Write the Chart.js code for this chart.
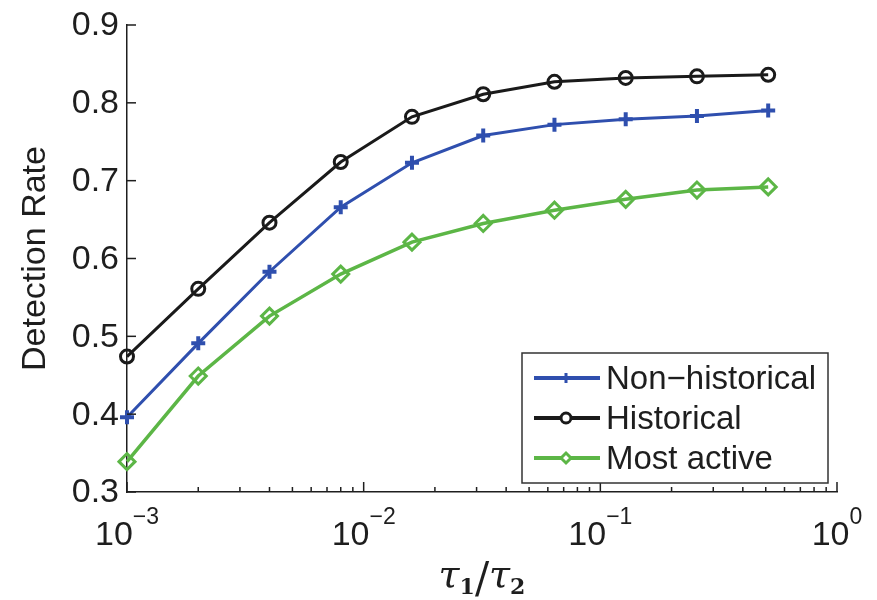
<!DOCTYPE html>
<html>
<head>
<meta charset="utf-8">
<script src="https://cdn.jsdelivr.net/npm/chart.js@4.4.1/dist/chart.umd.min.js"></script>
<style>
  html, body { margin: 0; padding: 0; background: #fff; }
  #wrap { width: 877px; height: 600px; }
</style>
</head>
<body>
<div id="wrap"><canvas id="chartRate"></canvas></div>
<script>
// tau1/tau2 ratios
const ratios = [0.001, 0.002, 0.004, 0.008, 0.016, 0.032, 0.064, 0.128, 0.256, 0.512];

const nonHistorical = [0.396, 0.491, 0.583, 0.666, 0.723, 0.758, 0.772, 0.779, 0.783, 0.790];
const historical    = [0.474, 0.561, 0.646, 0.724, 0.782, 0.811, 0.827, 0.832, 0.834, 0.836];
const mostActive    = [0.339, 0.449, 0.526, 0.580, 0.621, 0.645, 0.662, 0.676, 0.688, 0.692];

const yTicks = [0.3, 0.4, 0.5, 0.6, 0.7, 0.8, 0.9];
const xDecades = [-3, -2, -1, 0];

const INK = '#1e1e1e';
const BLUE = '#2f4fae';
const BLACK = '#1a1a1a';
const GREEN = '#5cb646';

const pts = (vals) => ratios.map((x, i) => ({ x: x, y: vals[i] }));

// ticks inward, labels, legend -- MATLAB look
const matlabAxes = {
    id: 'matlabAxes',
    afterDraw(chart) {
        const { ctx, chartArea: a, scales: { x, y } } = chart;
        ctx.save();
        ctx.strokeStyle = INK;
        ctx.lineWidth = 1.5;

        // y ticks + labels
        ctx.font = '34px "Liberation Sans", Arial, sans-serif';
        ctx.fillStyle = INK;
        ctx.textAlign = 'right';
        ctx.textBaseline = 'middle';
        yTicks.forEach(v => {
            const py = y.getPixelForValue(v);
            ctx.beginPath();
            ctx.moveTo(a.left, py);
            ctx.lineTo(a.left + 9, py);
            ctx.stroke();
            ctx.fillText(v.toFixed(1), a.left - 8, py + 1);
        });

        // x ticks (major + minor)
        xDecades.forEach(d => {
            for (let m = 1; m <= 9; m++) {
                const v = m * Math.pow(10, d);
                if (v > 1.0000001) break;
                const px = x.getPixelForValue(v);
                const len = m === 1 ? 10 : 5;
                ctx.beginPath();
                ctx.moveTo(px, a.bottom);
                ctx.lineTo(px, a.bottom - len);
                ctx.stroke();
            }
        });

        // x tick labels 10^d
        xDecades.forEach(d => {
            const px = x.getPixelForValue(Math.pow(10, d));
            const base = '10';
            const sup = d < 0 ? '\u2212' + (-d) : String(d);
            ctx.font = '34px "Liberation Sans", Arial, sans-serif';
            const wb = ctx.measureText(base).width;
            ctx.font = '23px "Liberation Sans", Arial, sans-serif';
            const ws = ctx.measureText(sup).width;
            const left = px - (wb + ws) / 2;
            ctx.textAlign = 'left';
            ctx.textBaseline = 'alphabetic';
            ctx.font = '34px "Liberation Sans", Arial, sans-serif';
            ctx.fillText(base, left, 545);
            ctx.font = '23px "Liberation Sans", Arial, sans-serif';
            ctx.fillText(sup, left + wb, 524);
        });

        // y title
        ctx.save();
        ctx.translate(36, (a.top + a.bottom) / 2);
        ctx.rotate(-Math.PI / 2);
        ctx.font = '34px "Liberation Sans", Arial, sans-serif';
        ctx.textAlign = 'center';
        ctx.textBaseline = 'middle';
        ctx.fillText('Detection Rate', 0, 0);
        ctx.restore();

        // x title: tau_1 / tau_2
        const parts = [
            { t: '\u03c4', f: 'italic 38px "DejaVu Serif", serif', dy: 0 },
            { t: '1', f: 'bold 22px "DejaVu Serif", serif', dy: 7 },
            { t: '/', f: '42px "DejaVu Serif", serif', dy: 5 },
            { t: '\u03c4', f: 'italic 38px "DejaVu Serif", serif', dy: 0 },
            { t: '2', f: 'bold 22px "DejaVu Serif", serif', dy: 7 }
        ];
        let total = 0;
        parts.forEach(p => { ctx.font = p.f; p.w = ctx.measureText(p.t).width; total += p.w; });
        let cx = (a.left + a.right) / 2 - total / 2;
        ctx.textAlign = 'left';
        ctx.textBaseline = 'alphabetic';
        parts.forEach(p => {
            ctx.font = p.f;
            ctx.fillText(p.t, cx, 587 + p.dy);
            cx += p.w;
        });

        // legend box
        const bx = 522, by = 353, bw = 306, bh = 130;
        ctx.fillStyle = '#fff';
        ctx.fillRect(bx, by, bw, bh);
        ctx.strokeStyle = '#333';
        ctx.lineWidth = 1.5;
        ctx.strokeRect(bx, by, bw, bh);

        chart.data.datasets.forEach((ds, i) => {
            const ly = 378 + i * 40;
            ctx.strokeStyle = ds.borderColor;
            ctx.lineWidth = 4;
            ctx.beginPath();
            ctx.moveTo(534, ly);
            ctx.lineTo(600, ly);
            ctx.stroke();
            ctx.lineWidth = 3;
            ctx.fillStyle = '#fff';
            Chart.helpers.drawPoint(ctx, {
                pointStyle: ds.pointStyle,
                radius: 5,
                rotation: 0,
                borderWidth: 3
            }, 566, ly);
            ctx.fillStyle = INK;
            ctx.font = '33px "Liberation Sans", Arial, sans-serif';
            ctx.textAlign = 'left';
            ctx.textBaseline = 'middle';
            ctx.fillText(ds.label, 606, ly + 2);
        });

        ctx.restore();
    }
};

const ctxRate = document.getElementById('chartRate');
new Chart(ctxRate, {
    type: 'line',
    data: {
        datasets: [
            {
                label: 'Non\u2212historical',
                data: pts(nonHistorical),
                borderColor: BLUE,
                backgroundColor: BLUE,
                borderWidth: 3,
                pointStyle: 'cross',
                pointRadius: 7,
                pointBorderWidth: 4,
                clip: false
            },
            {
                label: 'Historical',
                data: pts(historical),
                borderColor: BLACK,
                backgroundColor: 'rgba(0,0,0,0)',
                borderWidth: 3,
                pointStyle: 'circle',
                pointRadius: 6.5,
                pointBorderWidth: 3,
                clip: false
            },
            {
                label: 'Most active',
                data: pts(mostActive),
                borderColor: GREEN,
                backgroundColor: 'rgba(0,0,0,0)',
                borderWidth: 3.5,
                pointStyle: 'rectRot',
                pointRadius: 8,
                pointBorderWidth: 3,
                clip: false
            }
        ]
    },
    options: {
        responsive: true,
        maintainAspectRatio: false,
        animation: false,
        events: [],
        layout: { padding: { left: 127, right: 40, top: 25, bottom: 108 } },
        plugins: {
            legend: { display: false },
            tooltip: { enabled: false }
        },
        elements: { line: { tension: 0 } },
        scales: {
            x: {
                type: 'logarithmic',
                min: 0.001,
                max: 1,
                grid: { display: false, drawTicks: false },
                border: { display: true, color: INK, width: 1.5 },
                ticks: { display: false },
                afterFit: (s) => { s.height = 0; }
            },
            y: {
                min: 0.3,
                max: 0.9,
                grid: { display: false, drawTicks: false },
                border: { display: true, color: INK, width: 1.5 },
                ticks: { display: false },
                afterFit: (s) => { s.width = 0; }
            }
        }
    },
    plugins: [matlabAxes]
});
</script>
</body>
</html>
